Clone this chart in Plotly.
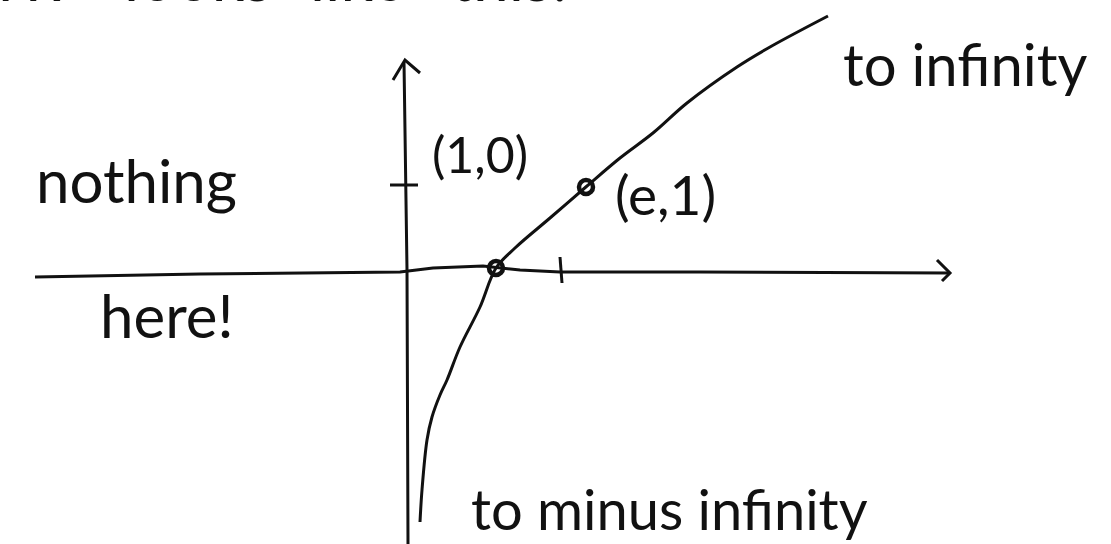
import plotly.graph_objects as go

# Sketch units: origin where the two axes cross, 1 unit = 100 px of canvas.
# ln x curve, read along the hand-drawn stroke from the bottom upwards
curve_x = [0.13, 0.15, 0.20, 0.25, 0.33, 0.40, 0.53, 0.73, 0.89, 1.08, 1.43, 1.80,
           2.13, 2.46, 2.80, 3.30, 3.63, 4.21]
curve_y = [-2.51, -2.19, -1.69, -1.46, -1.24, -1.09, -0.76, -0.36, 0.03, 0.23, 0.53, 0.85,
           1.13, 1.38, 1.68, 2.04, 2.24, 2.55]

# hand-drawn horizontal axis (slightly wavy) and its arrowhead
xaxis_x = [-3.72, -2.07, -0.07, 0.26, 0.76, 1.13, 1.53, 2.93, 5.43]
xaxis_y = [-0.06, -0.03, -0.01, 0.03, 0.05, 0.01, -0.01, -0.01, -0.02]
xarrow_x = [5.30, 5.43, 5.35]
xarrow_y = [0.11, -0.02, -0.10]

# hand-drawn vertical axis and its arrowhead
yaxis_x = [0.01, 0.00, -0.03]
yaxis_y = [-2.73, 0.01, 2.09]
yarrow_x = [-0.14, -0.02, 0.13]
yarrow_y = [1.91, 2.11, 1.98]

# tick marks at y = 1 and x = 1
ytick_x = [-0.17, 0.11]
ytick_y = [0.86, 0.86]
xtick_x = [1.53, 1.55]
xtick_y = [0.14, -0.12]

# marked points (1,0) and (e,1)
point_x = [0.89, 1.79]
point_y = [0.03, 0.84]

# labels: text, x, y, size
label_text = ["(1,0)", "(e,1)", "nothing", "here!", "to infinity", "to minus infinity"]
label_x = [0.73, 2.58, -2.71, -2.40, 5.58, 2.62]
label_y = [1.17, 0.77, 0.91, -0.44, 2.08, -2.37]
label_size = [50, 55, 60, 60, 58, 56]

# heading words running off the top edge, with their left edges in canvas px
title_words = ["ln x", "looks", "like", "this:"]
title_left_px = [-40, 122, 308, 448]

ink = "#111111"
stroke = dict(color=ink, width=3)

fig = go.Figure()
for xs, ys in [(xaxis_x, xaxis_y), (xarrow_x, xarrow_y), (yaxis_x, yaxis_y),
               (yarrow_x, yarrow_y), (ytick_x, ytick_y), (xtick_x, xtick_y)]:
    fig.add_trace(go.Scatter(x=xs, y=ys, mode="lines", line=stroke,
                             hoverinfo="skip", showlegend=False))

fig.add_trace(go.Scatter(x=curve_x, y=curve_y, mode="lines",
                         line=dict(color=ink, width=3, shape="spline", smoothing=1.0),
                         showlegend=False))
fig.add_trace(go.Scatter(x=point_x, y=point_y, mode="markers",
                         marker=dict(symbol="circle-open", size=14, color=ink,
                                     line=dict(color=ink, width=4.5)),
                         showlegend=False))

hand_font = "Lato"
for t, x, y, s in zip(label_text, label_x, label_y, label_size):
    fig.add_annotation(x=x, y=y, text=t, showarrow=False,
                       font=dict(family=hand_font, size=s, color=ink))

W = 1111
for word, left in zip(title_words, title_left_px):
    fig.add_annotation(xref="paper", yref="paper", x=left / W, y=1.0, xanchor="left",
                       yanchor="middle", yshift=24, text=word, showarrow=False,
                       font=dict(family=hand_font, size=64, color=ink))

fig.update_layout(
    width=1111, height=544,
    margin=dict(l=0, r=0, t=0, b=0),
    paper_bgcolor="white", plot_bgcolor="white",
    xaxis=dict(range=[-4.07, 7.04], visible=False, fixedrange=True),
    yaxis=dict(range=[-2.73, 2.71], visible=False, fixedrange=True),
)

fig.write_html("out.html")
